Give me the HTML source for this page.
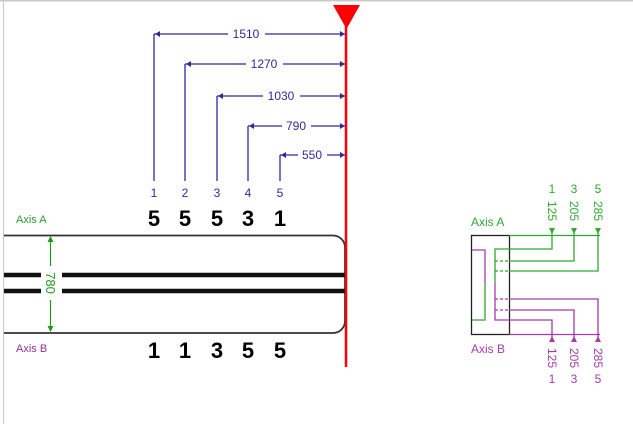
<!DOCTYPE html>
<html><head><style>
html,body{margin:0;padding:0;background:#fff;}
svg{display:block;}
text{font-family:"Liberation Sans",sans-serif;}
</style></head><body>
<svg width="633" height="424" viewBox="0 0 633 424" xmlns="http://www.w3.org/2000/svg">
<rect x="0" y="0" width="633" height="424" fill="#fff"/>
<line x1="0" y1="0.5" x2="633" y2="0.5" stroke="#c8c8c8" stroke-width="2"/>
<line x1="3.5" y1="0" x2="3.5" y2="424" stroke="#c8c8c8" stroke-width="1"/>

<g stroke="#2b2b9a" stroke-width="1.3" fill="none">
<line x1="154" y1="34" x2="154" y2="181"/>
<line x1="185" y1="64" x2="185" y2="181"/>
<line x1="217" y1="96" x2="217" y2="181"/>
<line x1="248" y1="126" x2="248" y2="181"/>
<line x1="280" y1="155" x2="280" y2="181"/>
<line x1="154" y1="34" x2="228" y2="34"/><line x1="265" y1="34" x2="345" y2="34"/>
<line x1="185" y1="64" x2="246" y2="64"/><line x1="283" y1="64" x2="345" y2="64"/>
<line x1="217" y1="96" x2="263" y2="96"/><line x1="300" y1="96" x2="345" y2="96"/>
<line x1="248" y1="126" x2="282" y2="126"/><line x1="311" y1="126" x2="345" y2="126"/>
<line x1="280" y1="155" x2="298" y2="155"/><line x1="327" y1="155" x2="345" y2="155"/>
</g>
<g fill="#2b2b9a">
<path d="M155 34l5-3v6z"/><path d="M345 34l-5-3v6z"/>
<path d="M186 64l5-3v6z"/><path d="M345 64l-5-3v6z"/>
<path d="M218 96l5-3v6z"/><path d="M345 96l-5-3v6z"/>
<path d="M249 126l5-3v6z"/><path d="M345 126l-5-3v6z"/>
<path d="M281 155l5-3v6z"/><path d="M345 155l-5-3v6z"/>
</g>
<g fill="#2b2b9a" font-size="12" text-anchor="middle">
<text x="246" y="38">1510</text>
<text x="264" y="68">1270</text>
<text x="281" y="100">1030</text>
<text x="296" y="130">790</text>
<text x="312" y="159">550</text>
<text x="154" y="197">1</text><text x="185" y="197">2</text><text x="217" y="197">3</text><text x="248" y="197">4</text><text x="280" y="197">5</text>
</g>
<g fill="#000" font-size="22" font-weight="bold" text-anchor="middle">
<text x="154" y="226">5</text><text x="185" y="226">5</text><text x="217" y="226">5</text><text x="248" y="226">3</text><text x="280" y="226">1</text>
<text x="154" y="358">1</text><text x="185" y="358">1</text><text x="217" y="358">3</text><text x="248" y="358">5</text><text x="280" y="358">5</text>
</g>

<path d="M4 235.5H333a12 12 0 0 1 12 12V321a12 12 0 0 1 -12 12H4" fill="none" stroke="#333" stroke-width="1.8"/>
<g stroke="#111" stroke-width="4.5">
<line x1="4" y1="275" x2="41" y2="275"/><line x1="62" y1="275" x2="345" y2="275"/>
<line x1="4" y1="291" x2="41" y2="291"/><line x1="62" y1="291" x2="345" y2="291"/>
</g>
<g stroke="#1e9a1e" stroke-width="1.2">
<line x1="50.5" y1="237" x2="50.5" y2="266"/><line x1="50.5" y1="300" x2="50.5" y2="331"/>
</g>
<g fill="#1e9a1e"><path d="M50.5 236l-3 6h6z"/><path d="M50.5 332l-3-6h6z"/></g>
<text transform="translate(46,283) rotate(90)" fill="#1e9a1e" font-size="13" text-anchor="middle">780</text>
<text x="16" y="223" fill="#2a9a2a" font-size="11">Axis A</text>
<text x="16" y="352" fill="#9a2a9a" font-size="11">Axis B</text>

<line x1="346" y1="10" x2="346" y2="367" stroke="#f00" stroke-width="2.5"/>
<path d="M333 5H360L346.5 29z" fill="#f00"/>

<rect x="471.5" y="235.5" width="38" height="99" fill="none" stroke="#222" stroke-width="1.3"/>
<g fill="none" stroke-width="1.3">
<g stroke="#2fa82f">
<line x1="509" y1="235.5" x2="600" y2="235.5"/>
<polyline points="552,229 552,249 495,249 495,283"/>
<polyline points="574,229 574,261 509,261"/>
<polyline points="598,229 598,271 509,271"/>
<line x1="495" y1="261" x2="509" y2="261" stroke-dasharray="3,2"/>
<line x1="495" y1="271" x2="509" y2="271" stroke-dasharray="3,2"/>
<polyline points="485,283 485,320 472,320"/>
</g>
<g stroke="#a33ca8">
<line x1="509" y1="334.5" x2="600" y2="334.5"/>
<polyline points="495,283 495,320 552,320 552,340"/>
<polyline points="509,310 574,310 574,340"/>
<polyline points="509,299 598,299 598,340"/>
<line x1="495" y1="310" x2="509" y2="310" stroke-dasharray="3,2"/>
<line x1="495" y1="299" x2="509" y2="299" stroke-dasharray="3,2"/>
<polyline points="472,250 485,250 485,283"/>
</g>
</g>
<g fill="#2fa82f"><path d="M552 234l-3-6h6z"/><path d="M574 234l-3-6h6z"/><path d="M598 234l-3-6h6z"/></g>
<g fill="#a33ca8"><path d="M552 336l-3 6h6z"/><path d="M574 336l-3 6h6z"/><path d="M598 336l-3 6h6z"/></g>
<g fill="#2fa82f" font-size="12" text-anchor="middle">
<text x="552" y="193">1</text><text x="574" y="193">3</text><text x="598" y="193">5</text>
<text transform="translate(548,211) rotate(90)">125</text>
<text transform="translate(570,211) rotate(90)">205</text>
<text transform="translate(594,211) rotate(90)">285</text>
</g>
<text x="471" y="226" fill="#2fa82f" font-size="12">Axis A</text>
<text x="471" y="353" fill="#a33ca8" font-size="12">Axis B</text>
<g fill="#a33ca8" font-size="12" text-anchor="middle">
<text transform="translate(548,358) rotate(90)">125</text>
<text transform="translate(570,358) rotate(90)">205</text>
<text transform="translate(594,358) rotate(90)">285</text>
<text x="552" y="383">1</text><text x="574" y="383">3</text><text x="598" y="383">5</text>
</g>
</svg>
</body></html>
